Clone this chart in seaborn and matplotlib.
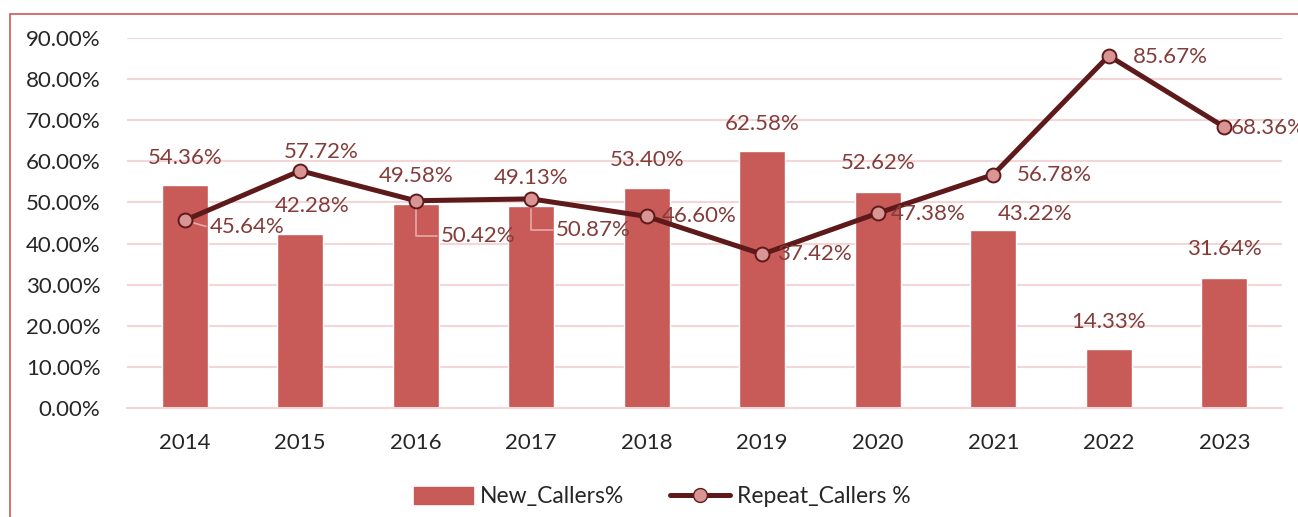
import numpy as np
import pandas as pd
import matplotlib
matplotlib.use("Agg")
import matplotlib.pyplot as plt
import seaborn as sns
from matplotlib.patches import Rectangle
from matplotlib.lines import Line2D
from matplotlib.patches import Patch

years = ["2014", "2015", "2016", "2017", "2018", "2019", "2020", "2021", "2022", "2023"]
new_callers = [54.36, 42.28, 49.58, 49.13, 53.40, 62.58, 52.62, 43.22, 14.33, 31.64]
repeat_callers = [45.64, 57.72, 50.42, 50.87, 46.60, 37.42, 47.38, 56.78, 85.67, 68.36]

df = pd.DataFrame({"year": years,
                   "new": np.array(new_callers) / 100,
                   "repeat": np.array(repeat_callers) / 100})

sns.set_style("white")
plt.rcParams["font.family"] = ["Lato", "DejaVu Sans"]

bar_c = "#C85A58"
line_c = "#5E1A1A"
mark_c = "#D99494"
lab_c = "#843C3A"
grid_c = "#F4D6D6"
fs = 16

fig = plt.figure(figsize=(12.98, 5.17), dpi=100)
ax = fig.add_axes([0.0978, 0.2108, 0.8899, 0.7157])

sns.barplot(data=df, x="year", y="new", color=bar_c, width=0.4,
            saturation=1, ax=ax, zorder=2)
sns.pointplot(data=df, x="year", y="repeat", color=line_c, ax=ax,
              markers="o", markersize=10, linewidth=3.6,
              markerfacecolor=mark_c, markeredgecolor=line_c,
              markeredgewidth=1.4, zorder=3)

ax.set_ylim(0, 0.9)
ax.set_xlim(-0.5, 9.5)
ax.set_yticks(np.arange(0, 0.91, 0.1))
ax.set_yticklabels([f"{v*100:.2f}%" for v in np.arange(0, 0.91, 0.1)])
ax.grid(axis="y", color=grid_c, lw=1.5, zorder=0)
ax.set_axisbelow(True)
for s in ["left", "right", "top"]:
    ax.spines[s].set_visible(False)
ax.spines["bottom"].set_color(grid_c)
ax.spines["bottom"].set_linewidth(1.5)
ax.set_xlabel("")
ax.set_ylabel("")
ax.tick_params(axis="y", length=0, pad=19, labelsize=fs, labelcolor="#262626")
ax.tick_params(axis="x", which="major", length=0, pad=18, labelsize=fs, labelcolor="#262626")
ax.set_xticks(np.arange(-0.5, 10, 1), minor=True)
ax.tick_params(axis="x", which="minor", length=8, width=1.5, color=grid_c)

# bar label offsets (pixels)
bar_off = [(0, 27), (12, 28), (0, 28), (0, 28), (0, 28), (0, 27), (0, 29), (42, 16), (0, 27), (0, 29)]
for i, v in enumerate(new_callers):
    ax.annotate(f"{v:.2f}%", (i, v / 100), xytext=bar_off[i], textcoords="offset pixels",
                ha="center", va="center", fontsize=fs, color=lab_c, annotation_clip=False)

line_off = [(62, -7), (21, 19), (62, -35), (62, -31), (52, 0), (52, 0), (50, -1), (61, 0), (62, -1), (44, -1)]
leaders = {2, 3}
for i, v in enumerate(repeat_callers):
    kw = {}
    if i in leaders:
        kw["arrowprops"] = dict(arrowstyle="-", color="#E8A8A8", lw=1.2, relpos=(0, 0.5),
                                shrinkA=0, shrinkB=7,
                                connectionstyle="angle,angleA=0,angleB=90,rad=0")
    if i == 0:
        kw["arrowprops"] = dict(arrowstyle="-", color="#E8A8A8", lw=1.2, relpos=(0, 0.5),
                                shrinkA=0, shrinkB=7)
    ax.annotate(f"{v:.2f}%", (i, v / 100), xytext=line_off[i], textcoords="offset pixels",
                ha="center", va="center", fontsize=fs, color=lab_c, annotation_clip=False,
                zorder=4, **kw)

handles = [Patch(color=bar_c, label="New_Callers%"),
           Line2D([0], [0], color=line_c, lw=3.6, marker="o", markersize=10,
                  markerfacecolor=mark_c, markeredgecolor=line_c, label="Repeat_Callers %")]
fig.legend(handles=handles, loc="center", bbox_to_anchor=(0.51, 0.039), ncol=2,
           frameon=False, fontsize=16.5, handlelength=2.6, handleheight=0.8,
           handletextpad=0.3, columnspacing=2.0)

fig.patches.append(Rectangle((10 / 1298, -0.2), 1.2, 1 - 14 / 517 + 0.2,
                             transform=fig.transFigure, fill=False,
                             edgecolor="#D0585A", lw=1.2, clip_on=False))

fig.savefig("out.png", dpi=100)
